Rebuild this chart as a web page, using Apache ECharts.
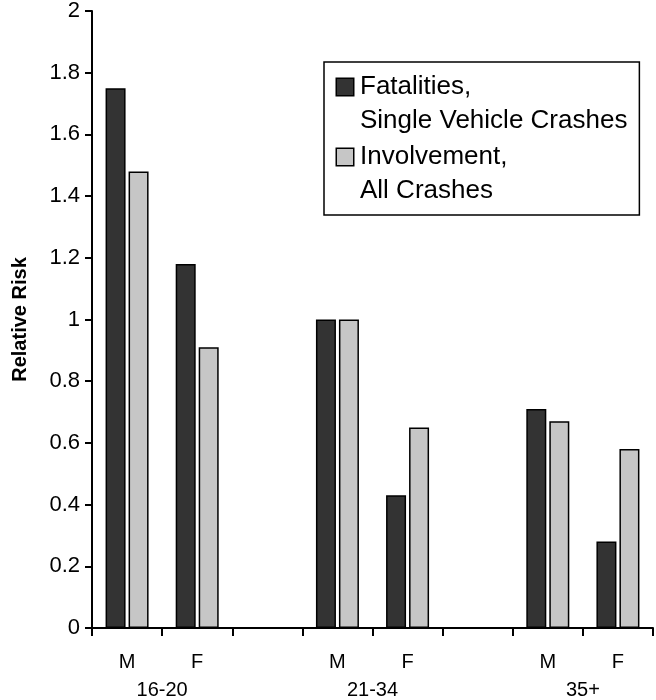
<!DOCTYPE html>
<html>
<head>
<meta charset="utf-8">
<script src="https://cdn.jsdelivr.net/npm/echarts@6/dist/echarts.min.js"></script>
<style>
html,body{margin:0;padding:0;background:#fff;}
#chart{width:656px;height:700px;}
</style>
</head>
<body>
<div id="chart"></div>
<script>
// ---- data ----
const categories = ['M', 'F', '', 'M', 'F', '', 'M', 'F'];
const groupLabels = ['16-20', '21-34', '35+'];
const seriesNames = ['Fatalities,\nSingle Vehicle Crashes', 'Involvement,\nAll Crashes'];
const fatalities = [1.75, 1.18, null, 1.00, 0.43, null, 0.71, 0.28];
const involvement = [1.48, 0.91, null, 1.00, 0.65, null, 0.67, 0.58];
const yTicks = { min: 0, max: 2, interval: 0.2 };

// group centres = boundary after each 'M' slot
const groupCenters = [];
categories.forEach((c, i) => { if (c === 'M') groupCenters.push(i + 1); });

const FONT = 'Liberation Sans, Arial, Helvetica, sans-serif';
const colors = ['#333333', '#c6c6c6'];

const chart = echarts.init(document.getElementById('chart'), null, { renderer: 'canvas' });
chart.setOption({
  animation: false,
  backgroundColor: '#fff',
  textStyle: { fontFamily: FONT, color: '#000' },
  grid: { left: 92, right: -8, top: 11, bottom: 72, containLabel: false },
  legend: {
    orient: 'vertical',
    left: 324,
    top: 62,
    padding: [8, 12, 7, 8],
    itemGap: 2,
    itemWidth: 0,
    itemHeight: 0,
    borderColor: '#000',
    borderWidth: 1.5,
    backgroundColor: '#fff',
    selectedMode: false,
    itemStyle: { color: 'transparent', borderColor: 'transparent', borderWidth: 0 },
    data: seriesNames,
    formatter: function (name) {
      const i = seriesNames.indexOf(name);
      const lines = name.split('\n');
      return '{i' + i + '|}{g|}{t|' + lines[0] + '}\n{s|}{g|}{t|' + lines[1] + '}';
    },
    textStyle: {
      fontFamily: FONT,
      fontSize: 26,
      lineHeight: 34,
      color: '#000',
      rich: {
        i0: { width: 16, height: 16, lineHeight: 34, backgroundColor: colors[0], borderColor: '#000', borderWidth: 1.5 },
        i1: { width: 16, height: 16, lineHeight: 34, backgroundColor: colors[1], borderColor: '#000', borderWidth: 1.5 },
        g: { width: 7, lineHeight: 34 },
        s: { width: 16, lineHeight: 34 },
        t: { fontFamily: FONT, fontSize: 26, lineHeight: 34, color: '#000' }
      }
    }
  },
  xAxis: [
    {
      type: 'category',
      data: categories,
      position: 'bottom',
      axisLine: { lineStyle: { color: '#000', width: 2 } },
      axisTick: { show: true, interval: 0, length: 8, lineStyle: { color: '#000', width: 2 } },
      axisLabel: { interval: 0, margin: 24, fontSize: 20, color: '#000', fontFamily: FONT },
      splitLine: { show: false }
    },
    {
      type: 'value',
      min: 0,
      max: categories.length,
      interval: 1,
      position: 'bottom',
      axisLine: { show: false },
      axisTick: { show: false },
      splitLine: { show: false },
      axisLabel: {
        margin: 52, fontSize: 20, color: '#000', fontFamily: FONT,
        showMinLabel: true, showMaxLabel: true,
        formatter: function (v) {
          const k = groupCenters.indexOf(Math.round(v));
          return k >= 0 ? groupLabels[k] : '';
        }
      }
    }
  ],
  yAxis: {
    type: 'value',
    min: yTicks.min,
    max: yTicks.max,
    interval: yTicks.interval,
    name: 'Relative Risk',
    nameLocation: 'middle',
    nameGap: 62,
    nameTextStyle: { fontSize: 20, fontWeight: 'bold', color: '#000', fontFamily: FONT },
    axisLine: { show: true, lineStyle: { color: '#000', width: 2 } },
    axisTick: { show: true, length: 7, lineStyle: { color: '#000', width: 2 } },
    axisLabel: { margin: 12, fontSize: 22, color: '#000', fontFamily: FONT },
    splitLine: { show: false }
  },
  series: [
    {
      name: seriesNames[0],
      type: 'bar',
      data: fatalities,
      barWidth: 20,
      barGap: '15%',
      itemStyle: { color: colors[0], borderColor: '#000', borderWidth: 1.5 }
    },
    {
      name: seriesNames[1],
      type: 'bar',
      data: involvement,
      barWidth: 20,
      barGap: '15%',
      itemStyle: { color: colors[1], borderColor: '#000', borderWidth: 1.5 }
    }
  ]
});
</script>
</body>
</html>
